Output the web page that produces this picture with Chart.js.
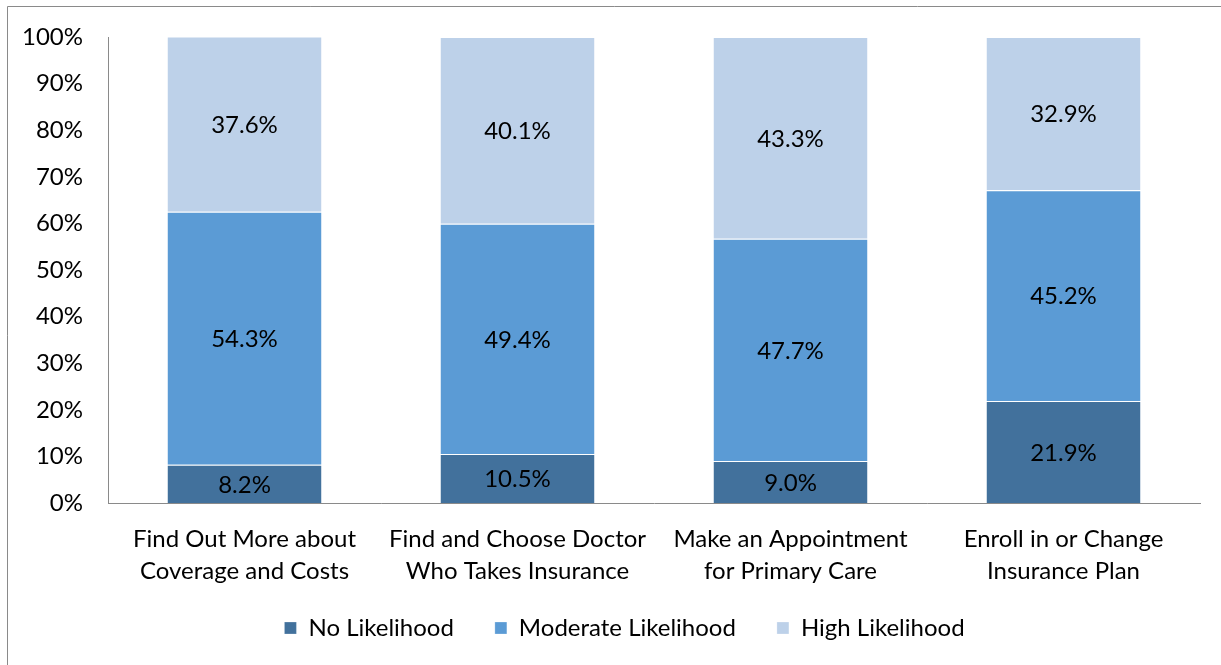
<!DOCTYPE html>
<html>
<head>
<meta charset="utf-8">
<script src="https://cdn.jsdelivr.net/npm/chart.js@4.4.1/dist/chart.umd.min.js"></script>
<style>
  html, body { margin: 0; padding: 0; background: #fff; }
  #wrap { width: 1221px; height: 665px; }
</style>
</head>
<body>
<div id="wrap"><canvas id="likelihood-chart" width="1221" height="665"></canvas></div>
<script>
const categories = [
    ['Find Out More about', 'Coverage and Costs'],
    ['Find and Choose Doctor', 'Who Takes Insurance'],
    ['Make an Appointment', 'for Primary Care'],
    ['Enroll in or Change', 'Insurance Plan']
];
const noLikelihood = [8.2, 10.5, 9.0, 21.9];
const moderateLikelihood = [54.3, 49.4, 47.7, 45.2];
const highLikelihood = [37.6, 40.1, 43.3, 32.9];
const yTicks = [0, 10, 20, 30, 40, 50, 60, 70, 80, 90, 100];

const FONT = 'Lato, "Open Sans", sans-serif';
const FONT_SIZE = 24;

// thin frame round the whole chart
const framePlugin = {
    id: 'frame',
    beforeDraw(chart) {
        const ctx = chart.ctx;
        ctx.save();
        ctx.fillStyle = '#fff';
        ctx.fillRect(0, 0, chart.width, chart.height);
        ctx.strokeStyle = '#8a8a8a';
        ctx.lineWidth = 1;
        ctx.beginPath();
        ctx.moveTo(7.5, chart.height);
        ctx.lineTo(7.5, 6.5);
        ctx.lineTo(chart.width, 6.5);
        ctx.stroke();
        ctx.restore();
    }
};

// legend sits centred under the whole frame, and the x labels may run down into its box
const layoutTweaks = {
    id: 'layoutTweaks',
    afterLayout(chart) {
        const lg = chart.legend;
        lg.left += 24;
        lg.right += 25;
        chart.scales.x.bottom = lg.bottom;
    }
};

// value written in the middle of each stacked segment
const segmentLabels = {
    id: 'segmentLabels',
    afterDatasetsDraw(chart) {
        const ctx = chart.ctx;
        ctx.save();
        ctx.font = FONT_SIZE + 'px ' + FONT;
        ctx.fillStyle = '#000';
        ctx.textAlign = 'center';
        ctx.textBaseline = 'middle';
        chart.data.datasets.forEach((ds, i) => {
            chart.getDatasetMeta(i).data.forEach((bar, j) => {
                const p = bar.getProps(['x', 'y', 'base'], true);
                ctx.fillText(ds.data[j].toFixed(1) + '%', p.x, (p.y + p.base) / 2 + 1);
            });
        });
        ctx.restore();
    }
};

const segment = {
    borderColor: '#ffffff',
    borderWidth: { top: 1, bottom: 0, left: 0, right: 0 },
    borderSkipped: false,
    barPercentage: 0.564,
    categoryPercentage: 1.0
};

new Chart(document.getElementById('likelihood-chart'), {
    type: 'bar',
    data: {
        labels: categories,
        datasets: [
            Object.assign({ label: 'No Likelihood', data: noLikelihood, backgroundColor: '#42719c' }, segment),
            Object.assign({ label: 'Moderate Likelihood', data: moderateLikelihood, backgroundColor: '#5b9bd5' }, segment),
            Object.assign({ label: 'High Likelihood', data: highLikelihood, backgroundColor: '#bdd1e9' }, segment)
        ]
    },
    options: {
        responsive: false,
        animation: false,
        layout: { padding: { top: 37, right: 21, bottom: 15, left: 0 } },
        plugins: {
            tooltip: { enabled: false },
            legend: {
                position: 'bottom',
                labels: {
                    font: { family: FONT, size: FONT_SIZE },
                    color: '#000',
                    boxWidth: 12,
                    boxHeight: 12,
                    padding: 41
                }
            }
        },
        scales: {
            x: {
                stacked: true,
                grid: { display: false, drawTicks: false },
                border: { display: true, color: '#8a8a8a', width: 1 },
                ticks: {
                    color: '#000',
                    font: { family: FONT, size: FONT_SIZE, lineHeight: 1.333 },
                    padding: 20,
                    maxRotation: 0,
                    autoSkip: false
                },
                afterFit(scale) { scale.height = 72; }
            },
            y: {
                stacked: true,
                min: 0,
                max: 100,
                afterBuildTicks(scale) { scale.ticks = yTicks.map(v => ({ value: v })); },
                grid: { display: false, drawTicks: false },
                border: { display: true, color: '#8a8a8a', width: 1 },
                ticks: {
                    color: '#000',
                    font: { family: FONT, size: FONT_SIZE },
                    padding: 25,
                    callback: v => v + '%'
                },
                afterFit(scale) {
                    scale.width = 108;
                    scale.paddingTop = 0;
                    scale.paddingBottom = 0;
                }
            }
        }
    },
    plugins: [framePlugin, layoutTweaks, segmentLabels]
});
</script>
</body>
</html>
